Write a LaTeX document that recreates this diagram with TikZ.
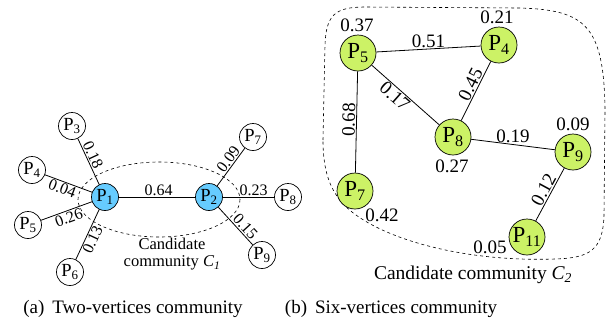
\documentclass[tikz,border=0pt]{standalone}
\usepackage{fontspec}
\setmainfont{Liberation Serif}
\definecolor{nodeblue}{HTML}{66CCFF}
\definecolor{nodegreen}{HTML}{CCF266}
\begin{document}
\begin{tikzpicture}[x=1pt,y=-1pt,
  lnode/.style={circle, draw, line width=0.7pt, minimum size=27pt, inner sep=0pt, font=\fontsize{18.5}{18.5}\selectfont},
  bnode/.style={lnode, fill=nodeblue},
  rnode/.style={circle, draw, line width=0.7pt, fill=nodegreen, minimum size=36pt, inner sep=0pt, font=\fontsize{23}{23}\selectfont},
  edge/.style={line width=0.8pt},
  lw/.style={font=\fontsize{16}{16}\selectfont, inner sep=1pt},
  rw/.style={font=\fontsize{19}{19}\selectfont, inner sep=1pt},
  ctext/.style={font=\fontsize{16.5}{17}\selectfont, align=center},
  ctextb/.style={font=\fontsize{19.5}{20}\selectfont},
  captext/.style={font=\fontsize{19}{19}\selectfont}
]
\useasboundingbox (0,0) rectangle (611,325);

% ---------- (a) ----------
\draw[dashed, line width=0.6pt] (159,199.5) ellipse [x radius=81, y radius=37.5];
\node[bnode] (a1) at (105,197) {P\textsubscript{1}};
\node[bnode] (a2) at (209,197) {P\textsubscript{2}};
\node[lnode] (a3) at (72,126) {P\textsubscript{3}};
\node[lnode] (a4) at (32,170) {P\textsubscript{4}};
\node[lnode] (a5) at (28,225) {P\textsubscript{5}};
\node[lnode] (a6) at (70,272) {P\textsubscript{6}};
\node[lnode] (a7) at (253,137) {P\textsubscript{7}};
\node[lnode] (a8) at (288,197) {P\textsubscript{8}};
\node[lnode] (a9) at (262,255) {P\textsubscript{9}};

\draw[edge] (a3) -- node[lw, pos=0.42, sloped, above] {0.18} (a1);
\draw[edge] (a4) -- node[lw, pos=0.42, sloped, below] {0.04} (a1);
\draw[edge] (a5) -- node[lw, pos=0.5, sloped, below] {0.26} (a1);
\draw[edge] (a6) -- node[lw, pos=0.45, sloped, below] {0.13} (a1);
\draw[edge] (a1) -- node[lw, pos=0.52, above] {0.64} (a2);
\draw[edge] (a2) -- node[lw, pos=0.6, sloped, above] {0.09} (a7);
\draw[edge] (a2) -- node[lw, pos=0.6, above] {0.23} (a8);
\draw[edge] (a2) -- node[lw, pos=0.64, sloped, above] {0.15} (a9);

\node[ctext] (c1) at (172,254) {Candidate\\community \textit{C\textsubscript{1}}};

% ---------- (b) ----------
\draw[dashed, line width=0.6pt]
  (323,140) -- (325,45) .. controls (326,15) and (335,7) .. (365,7)
  -- (520,8) .. controls (585,10) and (604,25) .. (605,110)
  -- (604,215) .. controls (603,250) and (590,258) .. (555,259)
  .. controls (470,262) and (390,242) .. (352,212)
  .. controls (332,196) and (323,175) .. cycle;

\node[rnode] (b5) at (358,53) {P\textsubscript{5}};
\node[rnode] (b4) at (499,45) {P\textsubscript{4}};
\node[rnode] (b8) at (453,137) {P\textsubscript{8}};
\node[rnode] (b9) at (573,152) {P\textsubscript{9}};
\node[rnode] (b7) at (355,191) {P\textsubscript{7}};
\node[rnode] (b11) at (527,237) {P\textsubscript{11}};

\draw[edge] (b5) -- node[rw, pos=0.5, above] {0.51} (b4);
\draw[edge] (b8) -- node[rw, pos=0.55, sloped, above] {0.45} (b4);
\draw[edge] (b5) -- node[rw, pos=0.42, sloped, below] {0.17} (b8);
\draw[edge] (b7) -- node[rw, pos=0.52, sloped, above] {0.68} (b5);
\draw[edge] (b8) -- node[rw, pos=0.5, above] {0.19} (b9);
\draw[edge] (b11) -- node[rw, pos=0.52, sloped, above] {0.12} (b9);

\node[rw] (w5) at (357,25) {0.37};
\node[rw] (w4) at (497,17) {0.21};
\node[rw] (w8) at (452,166) {0.27};
\node[rw] (w9) at (573,124) {0.09};
\node[rw] (w7) at (382,215) {0.42};
\node[rw] (w11) at (490,247) {0.05};

\node[ctextb] (c2) at (473,275) {Candidate community \textit{C\textsubscript{2}}};

% ---------- captions ----------
\node[captext] (capa) at (133,309) {(a)\, Two-vertices community};
\node[captext] (capb) at (391,309) {(b)\, Six-vertices community};
\end{tikzpicture}
\end{document}
